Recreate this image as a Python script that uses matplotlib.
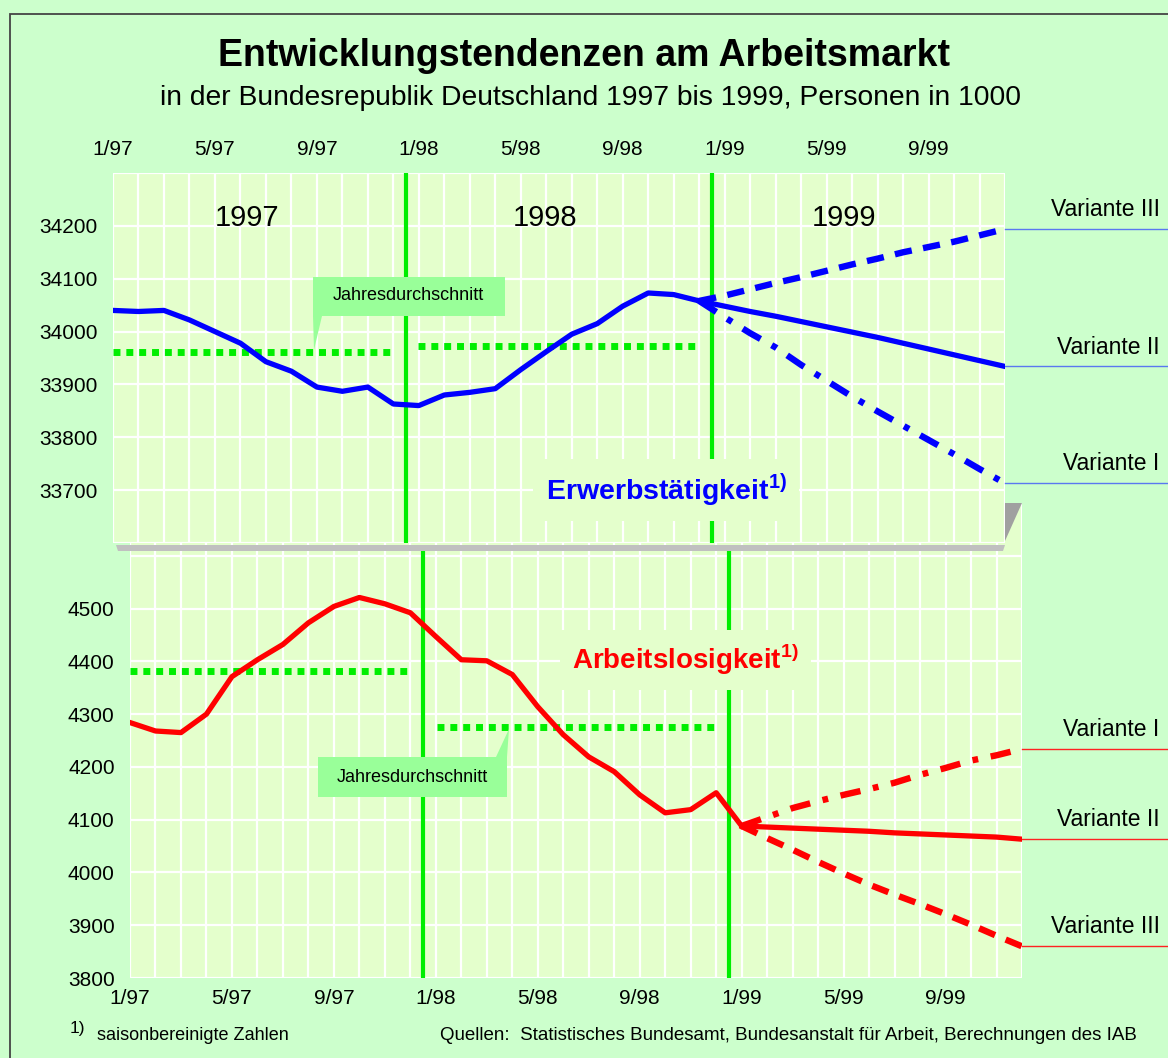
"""Entwicklungstendenzen am Arbeitsmarkt 1997-1999"""
import matplotlib
matplotlib.use("Agg")
import matplotlib.pyplot as plt
from matplotlib.patches import Polygon, Rectangle

plt.rcParams['font.family'] = ['Liberation Sans', 'DejaVu Sans']
plt.rcParams['mathtext.fontset'] = 'custom'
plt.rcParams['mathtext.rm'] = 'Liberation Sans'
plt.rcParams['mathtext.bf'] = 'Liberation Sans:bold'

# month index: 0 = 1/97 ... 35 = 12/99
tick_pos = [0, 4, 8, 12, 16, 20, 24, 28, 32]
tick_labels = ['1/97', '5/97', '9/97', '1/98', '5/98', '9/98', '1/99', '5/99', '9/99']
year_names = ['1997', '1998', '1999']
year_marks = [11.5, 23.5]

# Erwerbstaetigkeit, Personen in 1000
emp_months = list(range(24))
emp = [34040, 34038, 34040, 34022, 34000, 33978, 33943, 33925, 33895, 33887, 33895, 33863,
       33860, 33880, 33885, 33892, 33928, 33962, 33995, 34015, 34048, 34073, 34070, 34058]
emp_proj_months = list(range(23, 36))
emp_var1 = [34058, 34027, 33997, 33970, 33937, 33907, 33877, 33849, 33822, 33795, 33768, 33740, 33713]
emp_var2 = [34058, 34048, 34038, 34029, 34019, 34009, 33999, 33989, 33978, 33967, 33956, 33945, 33934]
emp_var3 = [34058, 34068, 34080, 34092, 34103, 34115, 34127, 34138, 34150, 34160, 34170, 34182, 34194]
emp_avg = [33962, 33972]
emp_avg_span = [(0, 11.06), (11.97, 23.03)]

# Arbeitslosigkeit, Personen in 1000
unemp_months = list(range(25))
unemp = [4284, 4268, 4265, 4300, 4371, 4403, 4432, 4473, 4504, 4521, 4509, 4492,
         4447, 4403, 4401, 4375, 4314, 4261, 4219, 4191, 4147, 4113, 4119, 4151, 4088]
unemp_proj_months = list(range(24, 36))
unemp_var1 = [4088, 4105, 4122, 4135, 4147, 4158, 4170, 4185, 4198, 4212, 4222, 4234]
unemp_var2 = [4088, 4086, 4084, 4082, 4080, 4078, 4075, 4073, 4071, 4069, 4067, 4063]
unemp_var3 = [4088, 4065, 4043, 4020, 3998, 3977, 3958, 3940, 3921, 3901, 3880, 3860]
unemp_avg = [4382, 4276]
unemp_avg_span = [(0, 11.06), (12.04, 23.07)]

W, H = 1168, 1058
BG = '#ccffcc'
PLOT_BG = '#e4ffcc'
GREEN = '#00ee00'
BOX = '#99ff99'


def fx(px):
    return px / W


def fy(py):
    return 1 - py / H


def style_axes(ax, ylim, yticks, yticks_lab):
    ax.set_facecolor(PLOT_BG)
    ax.set_xlim(0, 35)
    ax.set_ylim(*ylim)
    ax.set_xticks(range(36), minor=True)
    ax.set_yticks(yticks)
    ax.set_yticklabels(yticks_lab)
    ax.set_xticks(tick_pos)
    ax.set_xticklabels(tick_labels)
    ax.grid(True, which='both', axis='x', color='white', lw=1.6, zorder=0)
    ax.grid(True, which='major', axis='y', color='white', lw=1.6, zorder=0)
    ax.set_axisbelow(True)
    ax.tick_params(which='both', length=0, labelsize=15)
    ax.tick_params(axis='y', pad=11)
    for s in ax.spines.values():
        s.set_visible(False)


fig = plt.figure(figsize=(W / 100, H / 100), dpi=100, facecolor=BG)

# frame
fig.add_artist(Rectangle((fx(10), fy(1070)), fx(1180) - fx(10), fy(14) - fy(1070),
                         transform=fig.transFigure, fill=False, ec='#444444', lw=1.3))

fig.text(fx(584), fy(56), 'Entwicklungstendenzen am Arbeitsmarkt', ha='center', va='center',
         fontsize=27, fontweight='bold')
fig.text(fx(590), fy(98), 'in der Bundesrepublik Deutschland 1997 bis 1999, Personen in 1000',
         ha='center', va='center', fontsize=20.3)

# ---------------- bottom panel (Arbeitslosigkeit) ----------------
ax2 = fig.add_axes([fx(130), fy(978), 892 / W, 475 / H], zorder=1)
style_axes(ax2, (3800, 4700), range(3800, 4701, 100),
           [str(v) if v <= 4500 else '' for v in range(3800, 4701, 100)])
ax2.tick_params(axis='x', pad=8)
ax2.vlines(year_marks, 3800, 4616, color=GREEN, lw=3, zorder=2)
for v, (a, b) in zip(unemp_avg, unemp_avg_span):
    ax2.plot([a, b], [v, v], color=GREEN, lw=5, ls=(0, (1.0, 0.85)),
             solid_capstyle='butt', dash_capstyle='butt', zorder=2)
ax2.text(21.8, 4403, r'Arbeitslosigkeit$^{\bf 1)}$', color='red', fontsize=20,
         fontweight='bold', ha='center', va='center', zorder=2.5,
         bbox=dict(fc=PLOT_BG, ec='none', pad=9))
ax2.plot(unemp_months, unemp, color='red', lw=3.8, zorder=3)
ax2.plot(unemp_proj_months, unemp_var2, color='red', lw=3.8, zorder=3)
ax2.plot(unemp_proj_months, unemp_var1, color='red', lw=4.6, ls=(0, (3.2, 2.0, 0.9, 2.0)),
         dash_capstyle='butt', zorder=3)
ax2.plot(unemp_proj_months, unemp_var3, color='red', lw=4.6, ls=(0, (2.7, 1.8)),
         dash_capstyle='butt', zorder=3)
ax2.annotate('', xy=(24.0, 4090), xytext=(24.7, 4084),
             arrowprops=dict(arrowstyle='-|>', color='red', lw=0, mutation_scale=22), zorder=4)
for name, vals in [('Variante I', unemp_var1), ('Variante II', unemp_var2),
                   ('Variante III', unemp_var3)]:
    ax2.plot([35, 42], [vals[-1], vals[-1]], color='#ff2222', lw=1.0, clip_on=False)
    ax2.annotate(name, xy=(40.4, vals[-1]), xytext=(0, 14), textcoords='offset points',
                 ha='right', va='center', fontsize=16.5, annotation_clip=False)

# ---------------- top panel (Erwerbstaetigkeit) ----------------
ax1 = fig.add_axes([fx(113), fy(543), 892 / W, 370 / H], zorder=2)
style_axes(ax1, (33600, 34300), range(33600, 34301, 100),
           [str(v) if 33700 <= v <= 34200 else '' for v in range(33600, 34301, 100)])
ax1.xaxis.tick_top()
ax1.tick_params(axis='x', pad=10)
ax1.vlines(year_marks, 33600, 34300, color=GREEN, lw=3, zorder=2)
for v, (a, b) in zip(emp_avg, emp_avg_span):
    ax1.plot([a, b], [v, v], color=GREEN, lw=5, ls=(0, (1.0, 0.85)),
             solid_capstyle='butt', dash_capstyle='butt', zorder=2)
for name, xc in zip(year_names, [5.26, 16.95, 28.7]):
    ax1.text(xc, 34215, name, fontsize=21, ha='center', va='center', zorder=1)
ax1.text(21.7, 33700, r'Erwerbstätigkeit$^{\bf 1)}$', color='blue', fontsize=20.5,
         fontweight='bold', ha='center', va='center', zorder=2.5,
         bbox=dict(fc=PLOT_BG, ec='none', pad=9))
ax1.plot(emp_months, emp, color='blue', lw=3.8, zorder=3)
ax1.plot(emp_proj_months, emp_var2, color='blue', lw=3.8, zorder=3)
ax1.plot(emp_proj_months, emp_var3, color='blue', lw=4.6, ls=(0, (2.7, 1.8)),
         dash_capstyle='butt', zorder=3)
ax1.plot(emp_proj_months, emp_var1, color='blue', lw=4.6, ls=(0, (3.2, 2.0, 0.9, 2.0)),
         dash_capstyle='butt', zorder=3)
ax1.annotate('', xy=(22.85, 34062), xytext=(23.5, 34052),
             arrowprops=dict(arrowstyle='-|>', color='blue', lw=0, mutation_scale=22), zorder=4)
for name, vals in [('Variante III', emp_var3), ('Variante II', emp_var2),
                   ('Variante I', emp_var1)]:
    ax1.plot([35, 42], [vals[-1], vals[-1]], color='#5a78f0', lw=1.0, clip_on=False)
    ax1.annotate(name, xy=(41.07, vals[-1]), xytext=(0, 14), textcoords='offset points',
                 ha='right', va='center', fontsize=16.5, annotation_clip=False)

# 3D shadow of the upper plane
fig.add_artist(Polygon([(fx(116), fy(545)), (fx(1005), fy(545)), (fx(1003), fy(551)),
                        (fx(118), fy(551))], closed=True, transform=fig.transFigure,
                       fc='#c0c0c0', ec='none', zorder=10))
fig.add_artist(Polygon([(fx(1005), fy(503)), (fx(1022), fy(503)), (fx(1005), fy(541))],
                       closed=True, transform=fig.transFigure, fc='#a0a0a0', ec='none',
                       zorder=10))

# callouts "Jahresdurchschnitt"
fig.add_artist(Polygon([(fx(313), fy(277)), (fx(505), fy(277)), (fx(505), fy(316)),
                        (fx(322), fy(316)), (fx(314), fy(350)), (fx(313), fy(316))],
                       closed=True, transform=fig.transFigure, fc=BOX, ec='none', zorder=11))
fig.text(fx(408), fy(296), 'Jahresdurchschnitt', ha='center', va='center', fontsize=13,
         zorder=12)
fig.add_artist(Polygon([(fx(318), fy(757)), (fx(496), fy(757)), (fx(509), fy(729)),
                        (fx(507), fy(757)), (fx(507), fy(797)), (fx(318), fy(797))],
                       closed=True, transform=fig.transFigure, fc=BOX, ec='none', zorder=11))
fig.text(fx(412), fy(777), 'Jahresdurchschnitt', ha='center', va='center', fontsize=13,
         zorder=12)

# footnotes
fig.text(fx(70), fy(1028), '1)', ha='left', va='center', fontsize=12.5)
fig.text(fx(97), fy(1036), 'saisonbereinigte Zahlen', ha='left', va='center', fontsize=13)
fig.text(fx(440), fy(1036),
         'Quellen:  Statistisches Bundesamt, Bundesanstalt für Arbeit, Berechnungen des IAB',
         ha='left', va='center', fontsize=13.5)

fig.savefig('out.png', dpi=100, facecolor=BG)
